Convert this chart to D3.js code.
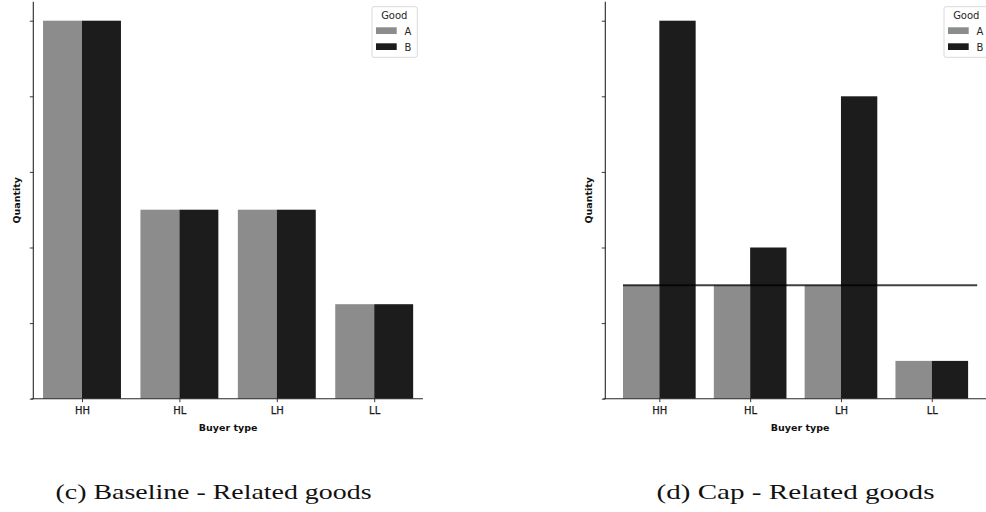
<!DOCTYPE html>
<html>
<head>
<meta charset="utf-8">
<script src="https://cdn.jsdelivr.net/npm/d3@7"></script>
<style>
  html, body { margin: 0; padding: 0; background: #fff; }
  svg { display: block; }
</style>
</head>
<body>
<svg id="chart" width="986" height="512"></svg>
<script>
// ---------- DATA ----------
const categories = ["HH", "HL", "LH", "LL"];
const goods = ["A", "B"];
const baselineA = [5, 2.5, 2.5, 1.25];
const baselineB = [5, 2.5, 2.5, 1.25];
const capA = [1.5, 1.5, 1.5, 0.5];
const capB = [5, 2, 4, 0.5];
const capLevel = 1.5;
const capLineSpan = [-0.4, 3.5];
const yTicks = [0, 1, 2, 3, 4, 5];
const captions = ["(c) Baseline - Related goods", "(d) Cap - Related goods"];
const xLabel = "Buyer type";
const yLabel = "Quantity";
const legendTitle = "Good";

// ---------- STYLE / LAYOUT ----------
const colors = { A: "#8c8c8c", B: "#1c1c1c" };
const axisColor = "#262626";
const sansFont = "'DejaVu Sans', sans-serif";
const serifFont = "'Liberation Serif', 'DejaVu Serif', serif";

const svg = d3.select("#chart");

const panels = [
  { left: 33.3, width: 389.6, xDomain: [-0.5, 3.5], A: baselineA, B: baselineB, cap: false,
    caption: captions[0], capX: 213.5, capW: 316 },
  { left: 605.3, width: 389.6, xDomain: [-0.595, 3.695], A: capA, B: capB, cap: true,
    caption: captions[1], capX: 795.5, capW: 278 }
];
const plotTop = 1.8, plotBottom = 398.7;

panels.forEach(p => {
  const g = svg.append("g");
  const x = d3.scaleLinear().domain(p.xDomain).range([p.left, p.left + p.width]);
  const y = d3.scaleLinear().domain([0, 5.25]).range([plotBottom, plotTop]);
  const bw = 0.4;

  const rows = [];
  categories.forEach((c, i) => {
    rows.push({ i, good: "A", v: p.A[i] });
    rows.push({ i, good: "B", v: p.B[i] });
  });

  g.selectAll("rect.bar").data(rows).enter().append("rect")
    .attr("class", "bar")
    .attr("x", d => d.good === "A" ? x(d.i - bw) : x(d.i))
    .attr("width", d => x(d.i + bw) - x(d.i))
    .attr("y", d => y(d.v))
    .attr("height", d => y(0) - y(d.v))
    .attr("fill", d => colors[d.good]);

  if (p.cap) {
    g.append("line")
      .attr("x1", x(capLineSpan[0])).attr("x2", x(capLineSpan[1]))
      .attr("y1", y(capLevel)).attr("y2", y(capLevel))
      .attr("stroke", "#000").attr("stroke-opacity", 0.75).attr("stroke-width", 1.9);
  }

  // axes
  const yAxis = d3.axisLeft(y).tickValues(yTicks).tickSize(3.5).tickFormat("");
  const ya = g.append("g").attr("transform", `translate(${p.left},0)`).call(yAxis);
  ya.select(".domain").attr("d", `M0,${plotTop}V${plotBottom}`);
  const xAxis = d3.axisBottom(x).tickValues(categories.map((c, i) => i))
    .tickFormat((d) => categories[d]).tickSize(3.5).tickPadding(5);
  const xa = g.append("g").attr("transform", `translate(0,${plotBottom})`).call(xAxis);
  xa.select(".domain").attr("d", `M${p.left - 2},0H${p.left + p.width}`);
  [ya, xa].forEach(a => {
    a.selectAll(".domain").attr("stroke", axisColor).attr("stroke-width", 1.1);
    a.selectAll(".tick line").attr("stroke", axisColor).attr("stroke-width", 0.9);
    a.selectAll(".tick text").attr("fill", "#1a1a1a")
      .attr("stroke", "#1a1a1a").attr("stroke-width", 0.25)
      .style("font-family", sansFont).style("font-size", "10px");
  });

  // labels
  g.append("text")
    .attr("x", p.left + p.width / 2).attr("y", 430.5)
    .attr("text-anchor", "middle")
    .style("font-family", sansFont).style("font-size", "9.5px").style("font-weight", "bold")
    .attr("fill", "#111").text(xLabel);
  g.append("text")
    .attr("transform", `translate(${p.left - 13.5},${(plotTop + plotBottom) / 2}) rotate(-90)`)
    .attr("text-anchor", "middle")
    .style("font-family", sansFont).style("font-size", "9.5px").style("font-weight", "bold")
    .attr("fill", "#111").text(yLabel);

  // legend
  const lx = p.left + p.width - 5.6 - 45.3, ly = 6.7;
  const lg = g.append("g").attr("transform", `translate(${lx},${ly})`);
  lg.append("rect").attr("width", 45.3).attr("height", 50.6).attr("rx", 2)
    .attr("fill", "#fff").attr("fill-opacity", 0.85)
    .attr("stroke", "#d6d6d6").attr("stroke-width", 0.9);
  lg.append("text").attr("x", 22.3).attr("y", 12.6).attr("text-anchor", "middle")
    .style("font-family", sansFont).style("font-size", "10px").attr("fill", "#262626")
    .text(legendTitle);
  goods.forEach((gd, k) => {
    lg.append("rect").attr("x", 4).attr("y", 20.6 + k * 16).attr("width", 20.7).attr("height", 6.7)
      .attr("fill", colors[gd]);
    lg.append("text").attr("x", 32.5).attr("y", 28.6 + k * 16)
      .style("font-family", sansFont).style("font-size", "10px").attr("fill", "#262626")
      .text(gd);
  });

  // caption
  svg.append("text")
    .attr("x", p.capX).attr("y", 499)
    .attr("text-anchor", "middle")
    .style("font-family", serifFont).style("font-size", "21px")
    .attr("fill", "#111")
    .attr("textLength", p.capW).attr("lengthAdjust", "spacingAndGlyphs")
    .text(p.caption);
});
</script>
</body>
</html>
